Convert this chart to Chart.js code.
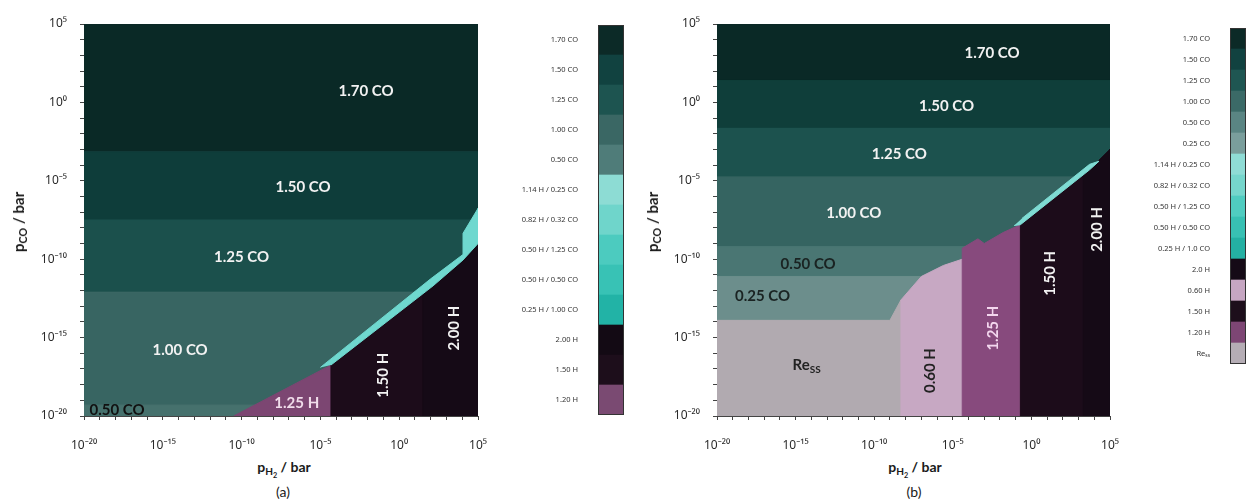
<!DOCTYPE html>
<html>
<head>
<meta charset="utf-8">
<script src="https://cdn.jsdelivr.net/npm/chart.js@4.4.1/dist/chart.umd.min.js"></script>
<style>
  body { margin: 0; background: #fff; }
  #page { position: relative; width: 1246px; height: 501px; overflow: hidden; font-family: Lato, "Noto Sans", sans-serif; color: #1a1a1a; }
  canvas { position: absolute; top: 0; }
  .title { position: absolute; font-weight: bold; white-space: nowrap; transform: translate(-50%, -50%); }
  .title sub { font-size: 72%; vertical-align: -0.3em; line-height: 0; }
  .ytitle { transform: translate(-50%, -50%) rotate(-90deg); }
</style>
</head>
<body>
<div id="page">
  <canvas id="plotA" width="500" height="450" style="left:0"></canvas>
  <canvas id="barA" width="130" height="450" style="left:500px"></canvas>
  <canvas id="plotB" width="499" height="450" style="left:633px"></canvas>
  <canvas id="barB" width="114" height="450" style="left:1132px"></canvas>

  <div class="title ytitle" style="left:18px;top:222px;font-size:15px">p<sub>CO</sub> / bar</div>
  <div class="title" style="left:284px;top:467px;font-size:14px">p<sub>H<sub>2</sub></sub> / bar</div>
  <div class="title" style="left:283px;top:491px;font-size:14px;font-weight:normal">(a)</div>

  <div class="title ytitle" style="left:652px;top:222px;font-size:15px">p<sub>CO</sub> / bar</div>
  <div class="title" style="left:915px;top:467px;font-size:14px">p<sub>H<sub>2</sub></sub> / bar</div>
  <div class="title" style="left:914px;top:491px;font-size:14px;font-weight:normal">(b)</div>
</div>
<script>
// axes are log10(p / bar)
const AXIS_MIN = -20, AXIS_MAX = 5;

// ---- panel (a) ----
// horizontal CO bands, edges in log10 pCO from top to bottom
const bandEdgesA = [5, -3.15, -7.5, -12.1, -19.3, -20];
const bandColorsA = ['#0a2926', '#0e3d3a', '#1b504c', '#386562', '#46716d'];

// hydride / mixed regions as [log10 pH2, log10 pCO] vertices
const regionA_125H = [[-10.5, -20], [-4.33, -16.75], [-4.33, -20]];
const regionA_150H = [[-4.33, -20], [-4.33, -16.75], [2.15, -11.7], [4.05, -10.05], [5, -9.0], [5, -20]];
const regionA_200H = [[1.5, -20], [1.5, -12.2], [2.15, -11.7], [4.05, -10.05], [5, -9.0], [5, -20]];
const regionA_mixed = [[-5.0, -16.9], [2.0, -11.25], [4.05, -9.7], [4.05, -8.35], [5, -6.76], [5, -9.0],
                       [4.05, -10.05], [2.15, -11.7], [-4.33, -16.75]];

// ---- panel (b) ----
const bandEdgesB = [5, 1.4, -1.65, -4.75, -9.2, -11.1, -13.9];
const bandColorsB = ['#0a2926', '#0f3e3a', '#1c524e', '#356461', '#4a7673', '#6c8e8c'];

const regionB_Re = [[-20, -20], [-20, -13.9], [-9.0, -13.9], [-8.3, -12.6], [-8.3, -20]];
const regionB_060H = [[-8.3, -20], [-8.3, -12.6], [-7.0, -11.1], [-5.6, -10.4], [-4.4, -10.0], [-4.4, -20]];
const regionB_125H = [[-4.4, -20], [-4.4, -9.3], [-3.4, -8.7], [-3.0, -9.0], [-1.8, -8.3], [-0.7, -7.8], [-0.7, -20]];
const regionB_150H = [[-0.7, -20], [-0.7, -7.8], [3.7, -4.3], [5, -3.0], [5, -20]];
const regionB_200H = [[3.3, -20], [3.3, -4.62], [3.7, -4.3], [5, -3.0], [5, -20]];
const regionB_mixed = [[-1.1, -7.85], [-0.7, -7.8], [3.7, -4.3], [4.3, -3.75], [3.7, -3.95], [-0.6, -7.4]];

// colour-bar legends
const legendLabelsA = ['1.70 CO', '1.50 CO', '1.25 CO', '1.00 CO', '0.50 CO',
  '1.14 H / 0.25 CO', '0.82 H / 0.32 CO', '0.50 H / 1.25 CO', '0.50 H / 0.50 CO', '0.25 H / 1.00 CO',
  '2.00 H', '1.50 H', '1.20 H'];
const legendColorsA = ['#0c2a27', '#114240', '#1d5450', '#3a6764', '#4f7c79',
  '#8ddcd4', '#6fd5cb', '#4ccbbf', '#38c2b5', '#22b3a6',
  '#130a14', '#1d0e1b', '#7a4a72'];

const legendLabelsB = ['1.70 CO', '1.50 CO', '1.25 CO', '1.00 CO', '0.50 CO', '0.25 CO',
  '1.14 H / 0.25 CO', '0.82 H / 0.32 CO', '0.50 H / 1.25 CO', '0.50 H / 0.50 CO', '0.25 H / 1.0 CO',
  '2.0 H', '0.60 H', '1.50 H', '1.20 H', 'Reₛₛ'];
const legendColorsB = ['#0c2a27', '#114240', '#1f5652', '#3b6a67', '#5a8583', '#7a9e9c',
  '#8fdcd5', '#76d6cc', '#50ccc0', '#38c0b3', '#24b0a3',
  '#150a16', '#c6a6c2', '#1d0e1b', '#7d4674', '#b5adb5'];

// phase labels written on the maps: text, log pH2, log pCO, colour, vertical, subscript
const phaseTextA = [
  ['1.70 CO', -2.1, 0.7, '#f2f2f2'],
  ['1.50 CO', -6.1, -5.4, '#f2f2f2'],
  ['1.25 CO', -10.0, -9.9, '#f2f2f2'],
  ['1.00 CO', -13.9, -15.8, '#f2f2f2'],
  ['0.50 CO', -17.9, -19.65, '#111'],
  ['1.25 H', -6.5, -19.2, '#f0dcea'],
  ['1.50 H', -1.0, -17.4, '#f2f2f2', true],
  ['2.00 H', 3.5, -14.4, '#f2f2f2', true]
];
const phaseTextB = [
  ['1.70 CO', -2.5, 3.15, '#f2f2f2'],
  ['1.50 CO', -5.4, -0.25, '#f2f2f2'],
  ['1.25 CO', -8.4, -3.3, '#f2f2f2'],
  ['1.00 CO', -11.3, -7.05, '#f2f2f2'],
  ['0.50 CO', -14.2, -10.3, '#1a2322'],
  ['0.25 CO', -17.1, -12.35, '#1a2322'],
  ['Re', -14.3, -16.75, '#222', false, 'SS'],
  ['0.60 H', -6.45, -17.1, '#222', true],
  ['1.25 H', -2.45, -14.4, '#f3d6ee', true],
  ['1.50 H', 1.2, -10.9, '#f2f2f2', true],
  ['2.00 H', 4.2, -8.1, '#f2f2f2', true]
];

const SUP = {'-': '⁻', '0': '⁰', '1': '¹', '2': '²', '3': '³', '4': '⁴', '5': '⁵', '6': '⁶', '7': '⁷', '8': '⁸', '9': '⁹'};
function powerLabel(v) {
  return '10' + String(v).split('').map(c => SUP[c]).join('');
}

function polygon(points, color) {
  return {
    data: points.map(p => ({x: p[0], y: p[1]})),
    showLine: true,
    fill: 'shape',
    backgroundColor: color,
    borderColor: color,
    borderWidth: 1,
    pointRadius: 0,
    clip: 0
  };
}

function bands(edges, colors) {
  return colors.map((c, i) => polygon([[AXIS_MIN, edges[i]], [AXIS_MAX, edges[i]], [AXIS_MAX, edges[i + 1]], [AXIS_MIN, edges[i + 1]]], c));
}

function phaseLabels(items, size) {
  return {
    id: 'phaseLabels',
    afterDatasetsDraw(chart) {
      const {ctx, scales: {x, y}} = chart;
      ctx.save();
      ctx.textBaseline = 'middle';
      for (const [text, lx, ly, color, vertical, sub] of items) {
        ctx.save();
        ctx.translate(x.getPixelForValue(lx), y.getPixelForValue(ly));
        if (vertical) ctx.rotate(-Math.PI / 2);
        ctx.fillStyle = color;
        ctx.font = 'bold ' + size + 'px Lato, "Noto Sans", sans-serif';
        if (sub) {
          const w1 = ctx.measureText(text).width;
          ctx.font = 'bold ' + Math.round(size * 0.65) + 'px Lato, "Noto Sans", sans-serif';
          const w2 = ctx.measureText(sub).width;
          ctx.textAlign = 'left';
          ctx.fillText(sub, -(w1 + w2) / 2 + w1, size * 0.3);
          ctx.font = 'bold ' + size + 'px Lato, "Noto Sans", sans-serif';
          ctx.fillText(text, -(w1 + w2) / 2, 0);
        } else {
          ctx.textAlign = 'center';
          ctx.fillText(text, 0, 0);
        }
        ctx.restore();
      }
      ctx.restore();
    }
  };
}

function logAxis(pad, fit) {
  return {
    type: 'linear',
    min: AXIS_MIN,
    max: AXIS_MAX,
    z: 1,
    afterFit: fit,
    border: {display: true, color: '#444', width: 1},
    grid: {drawOnChartArea: false, drawTicks: true, tickLength: 4, color: '#444'},
    ticks: {
      stepSize: 1,
      autoSkip: false,
      maxRotation: 0,
      padding: pad,
      color: '#2a2a2a',
      font: {family: '"Noto Sans", sans-serif', size: 12},
      callback: v => (v % 5 === 0 ? powerLabel(v) : '')
    }
  };
}

function makePlot(id, datasets, labels) {
  return new Chart(document.getElementById(id), {
    type: 'scatter',
    data: {datasets: datasets.reverse()},
    options: {
      responsive: false,
      animation: false,
      events: [],
      layout: {padding: {left: 0, top: 24, right: 22, bottom: 0}},
      plugins: {legend: {display: false}, tooltip: {enabled: false}},
      scales: {
        x: logAxis(18, s => { s.height = 34; s.paddingLeft = 0; s.paddingRight = 0; }),
        y: logAxis(13, s => { s.width = 84; })
      }
    },
    plugins: [phaseLabels(labels, 15)]
  });
}

const frame = {
  id: 'frame',
  afterDatasetsDraw(chart) {
    const {ctx, chartArea: a} = chart;
    ctx.save();
    ctx.strokeStyle = '#333';
    ctx.lineWidth = 1;
    ctx.strokeRect(a.left + 0.5, a.top + 0.5, a.right - a.left - 1, a.bottom - a.top - 1);
    ctx.restore();
  }
};

function makeColourBar(id, labels, colors, padding) {
  return new Chart(document.getElementById(id), {
    type: 'bar',
    data: {labels: labels, datasets: [{data: labels.map(() => 1), backgroundColor: colors, borderWidth: 0,
      barPercentage: 1, categoryPercentage: 1}]},
    options: {
      indexAxis: 'y',
      responsive: false,
      animation: false,
      events: [],
      layout: {padding: padding},
      plugins: {legend: {display: false}, tooltip: {enabled: false}},
      scales: {
        x: {display: false, min: 0, max: 1},
        y: {
          afterFit: s => { s.width = 98; },
          grid: {display: false},
          border: {display: false},
          ticks: {autoSkip: false, padding: 12, color: '#333', font: {family: '"Noto Sans", sans-serif', size: 7.5}}
        }
      }
    },
    plugins: [frame]
  });
}

makePlot('plotA', [
  ...bands(bandEdgesA, bandColorsA),
  polygon(regionA_125H, '#7c4672'),
  polygon(regionA_150H, '#1c0c1a'),
  polygon(regionA_200H, '#150a16'),
  polygon(regionA_mixed, '#6fd8cf')
], phaseTextA);

makePlot('plotB', [
  ...bands(bandEdgesB, bandColorsB),
  polygon(regionB_Re, '#b1aab0'),
  polygon(regionB_060H, '#c7a8c3'),
  polygon(regionB_125H, '#874a7d'),
  polygon(regionB_150H, '#1c0c1a'),
  polygon(regionB_200H, '#150a16'),
  polygon(regionB_mixed, '#7fdcd4')
], phaseTextB);

makeColourBar('barA', legendLabelsA, legendColorsA, {left: 0, top: 25, right: 6, bottom: 35});
makeColourBar('barB', legendLabelsB, legendColorsB, {left: 0, top: 28, right: 0, bottom: 86});
</script>
</body>
</html>
